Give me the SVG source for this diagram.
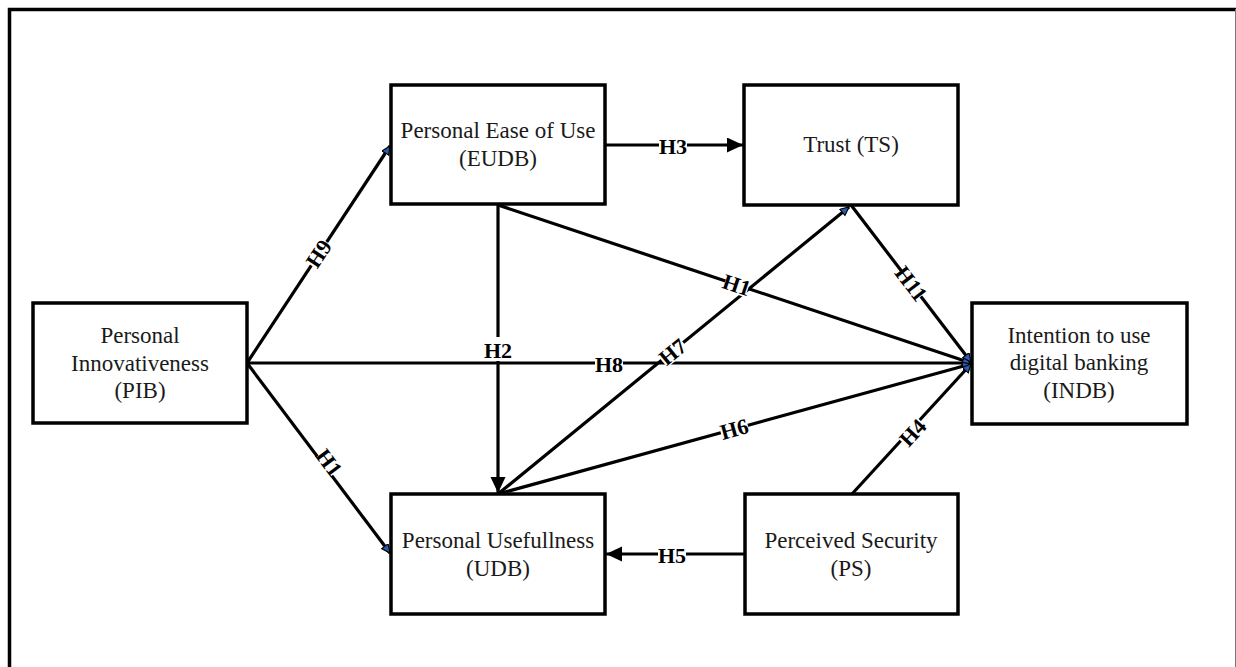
<svg xmlns="http://www.w3.org/2000/svg" width="1236" height="667" viewBox="0 0 1236 667">
<style>
.box{fill:#fff;stroke:#000;stroke-width:3.5}
.t{font-family:"Liberation Serif","Times New Roman",serif;font-size:23px;fill:#1a1a1a;text-anchor:middle}
.c{fill:none;stroke:#000;stroke-width:3.2}
.lb{fill:#fff;stroke:none}
.lt{font-family:"Liberation Serif","Times New Roman",serif;font-size:22px;font-weight:bold;fill:#000;text-anchor:middle;dominant-baseline:central}
</style>
<defs>
<marker id="big" markerUnits="userSpaceOnUse" markerWidth="18" markerHeight="16" refX="16" refY="7.5" orient="auto">
<path d="M0,0 L16,7.5 L0,15 z" fill="#000"/>
</marker>
<marker id="sm" markerUnits="userSpaceOnUse" markerWidth="12" markerHeight="12" refX="9" refY="4.5" orient="auto">
<path d="M0.5,0.5 L9,4.5 L0.5,8.5 z" fill="#2c5cb0" stroke="#000" stroke-width="1.2"/>
</marker>
</defs>
<rect width="1236" height="667" fill="#fff"/>
<path d="M9.5,700 V9.5 H1240" fill="none" stroke="#000" stroke-width="3.5"/>
<line x1="1235.5" y1="9" x2="1235.5" y2="667" stroke="#777" stroke-width="1"/>

<g id="connectors">
<line class="c" x1="247" y1="363" x2="390" y2="146" marker-end="url(#sm)"/>
<line class="c" x1="247" y1="363" x2="390" y2="553" marker-end="url(#sm)"/>
<line class="c" x1="247" y1="363" x2="971" y2="363" marker-end="url(#sm)"/>
<line class="c" x1="498" y1="205" x2="498" y2="493" marker-end="url(#big)"/>
<line class="c" x1="605" y1="145" x2="743" y2="145" marker-end="url(#big)"/>
<line class="c" x1="498" y1="205" x2="971" y2="363" marker-end="url(#sm)"/>
<line class="c" x1="498" y1="494" x2="849" y2="207" marker-end="url(#sm)"/>
<line class="c" x1="851" y1="205" x2="971" y2="362" marker-end="url(#sm)"/>
<line class="c" x1="498" y1="494" x2="971" y2="364" marker-end="url(#sm)"/>
<line class="c" x1="852" y1="494" x2="971" y2="364" marker-end="url(#sm)"/>
<line class="c" x1="745" y1="554" x2="606" y2="554" marker-end="url(#big)"/>

<g transform="translate(318,253) rotate(-56.5)"><rect class="lb" x="-14" y="-9" width="28" height="18"/><text class="lt" x="0" y="1">H9</text></g>
<g transform="translate(330,462) rotate(53)"><rect class="lb" x="-12" y="-9" width="24" height="18"/><text class="lt" x="0" y="1">H1</text></g>
<g transform="translate(609,363)"><rect class="lb" x="-14" y="-9" width="28" height="18"/><text class="lt" x="0" y="1">H8</text></g>
<g transform="translate(498,349)"><rect class="lb" x="-15" y="-12" width="30" height="24"/><text class="lt" x="0" y="1">H2</text></g>
<g transform="translate(673,145)"><rect class="lb" x="-14" y="-9" width="28" height="18"/><text class="lt" x="0" y="1">H3</text></g>
<g transform="translate(737,284) rotate(18.4)"><rect class="lb" x="-12" y="-10" width="24" height="20"/><text class="lt" x="0" y="1">H1</text></g>
<g transform="translate(672,351) rotate(-39.3)"><rect class="lb" x="-14" y="-10" width="28" height="20"/><text class="lt" x="0" y="1">H7</text></g>
<g transform="translate(912,283) rotate(52.5)"><rect class="lb" x="-16" y="-9" width="32" height="18"/><text class="lt" x="0" y="1">H11</text></g>
<g transform="translate(734,428) rotate(-15.5)"><rect class="lb" x="-14" y="-9" width="28" height="18"/><text class="lt" x="0" y="1">H6</text></g>
<g transform="translate(912,432) rotate(-47.3)"><rect class="lb" x="-14" y="-9" width="28" height="18"/><text class="lt" x="0" y="1">H4</text></g>
<g transform="translate(672,554)"><rect class="lb" x="-14" y="-9" width="28" height="18"/><text class="lt" x="0" y="1">H5</text></g>
</g>

<g id="EUDB"><rect class="box" x="391" y="85" width="214" height="119"/>
<text class="t" x="498" y="138">Personal Ease of Use</text><text class="t" x="498" y="166">(EUDB)</text></g>
<g id="TS"><rect class="box" x="744" y="85" width="214" height="120"/>
<text class="t" x="851" y="152">Trust (TS)</text></g>
<g id="PIB"><rect class="box" x="33" y="303" width="214" height="120"/>
<text class="t" x="140" y="343">Personal</text><text class="t" x="140" y="371">Innovativeness</text><text class="t" x="140" y="398">(PIB)</text></g>
<g id="INDB"><rect class="box" x="972" y="303" width="215" height="121"/>
<text class="t" x="1079" y="343">Intention to use</text><text class="t" x="1079" y="370">digital banking</text><text class="t" x="1079" y="398">(INDB)</text></g>
<g id="UDB"><rect class="box" x="391" y="494" width="214" height="120"/>
<text class="t" x="498" y="548">Personal Usefullness</text><text class="t" x="498" y="576">(UDB)</text></g>
<g id="PS"><rect class="box" x="745" y="494" width="213" height="120"/>
<text class="t" x="851" y="548">Perceived Security</text><text class="t" x="851" y="576">(PS)</text></g>
</svg>
